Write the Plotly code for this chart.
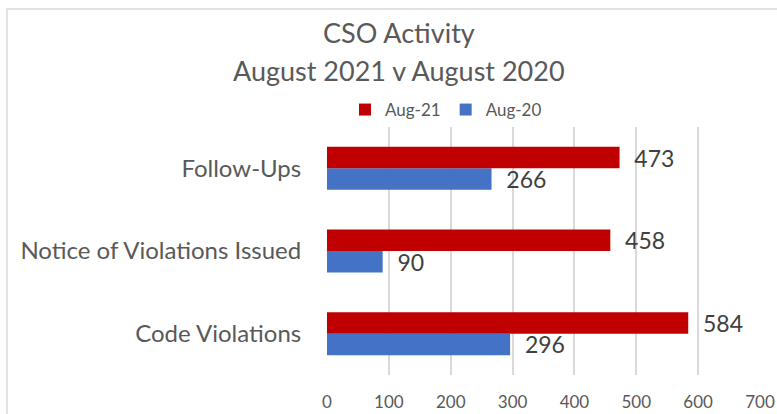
import plotly.graph_objects as go

# data, bottom to top as plotly draws categories
categories = ["Code Violations", "Notice of Violations Issued", "Follow-Ups"]
aug_21 = [584, 458, 473]
aug_20 = [296, 90, 266]
x_ticks = [0, 100, 200, 300, 400, 500, 600, 700]

FONT = "Lato"
RED = "#C00000"
BLUE = "#4472C4"
TXT = "#595959"

# plot area in pixels (figure is 777 x 414)
L, R, T, B = 327, 17, 127, 39
PW = 777 - L - R
PH = 414 - T - B


def px_x(p):
    return (p - L) / PW


def px_y(p):
    return (414 - B - p) / PH


fig = go.Figure()
for name, vals, col in [("Aug-20", aug_20, BLUE), ("Aug-21", aug_21, RED)]:
    fig.add_trace(go.Bar(
        y=categories, x=vals, name=name, orientation="h",
        marker=dict(color=col, line=dict(width=0)),
        text=vals, texttemplate="\u00a0\u00a0%{text}", textposition="outside",
        textfont=dict(family=FONT, size=23, color="#404040"),
        constraintext="none", cliponaxis=False,
    ))

fig.update_layout(
    width=777, height=414,
    margin=dict(l=L, r=R, t=T, b=B, autoexpand=False),
    paper_bgcolor="white", plot_bgcolor="white",
    barmode="group", bargap=0.48, bargroupgap=0,
    font=dict(family=FONT, color=TXT),
    legend=dict(
        orientation="h", traceorder="reversed",
        x=px_x(446), y=px_y(110), xanchor="center", yanchor="middle",
        font=dict(family=FONT, size=17, color=TXT),
        itemwidth=30, bgcolor="rgba(0,0,0,0)",
    ),
    showlegend=True,
)

fig.update_xaxes(
    range=[0, 700], tickvals=x_ticks,
    showgrid=True, gridcolor="#D9D9D9", gridwidth=1.5,
    zeroline=False, showline=False,
    tickfont=dict(family=FONT, size=17, color=TXT),
    ticks="", ticklabelstandoff=15, automargin=False,
)
fig.update_yaxes(
    showgrid=False, zeroline=False, showline=False,
    tickfont=dict(family=FONT, size=24, color=TXT),
    ticks="outside", ticklen=20, tickcolor="rgba(0,0,0,0)", automargin=False,
)

# title lines
fig.add_annotation(text="CSO Activity", xref="paper", yref="paper",
                   x=px_x(399), y=px_y(33), showarrow=False,
                   xanchor="center", yanchor="middle",
                   font=dict(family=FONT, size=27, color=TXT))
fig.add_annotation(text="August 2021 v August 2020", xref="paper", yref="paper",
                   x=px_x(399), y=px_y(70), showarrow=False,
                   xanchor="center", yanchor="middle",
                   font=dict(family=FONT, size=27, color=TXT))

# chart frame, only top and left edges are visible
fig.add_shape(type="rect", xref="paper", yref="paper",
              x0=px_x(7), x1=px_x(800), y0=px_y(430), y1=px_y(9),
              line=dict(color="#D9D9D9", width=1.5), layer="below")

# page body has a default 8px margin, drop it so the figure fills the window
fig.write_html("out.html", config={"displayModeBar": False},
               post_script="document.body.style.margin='0';")
